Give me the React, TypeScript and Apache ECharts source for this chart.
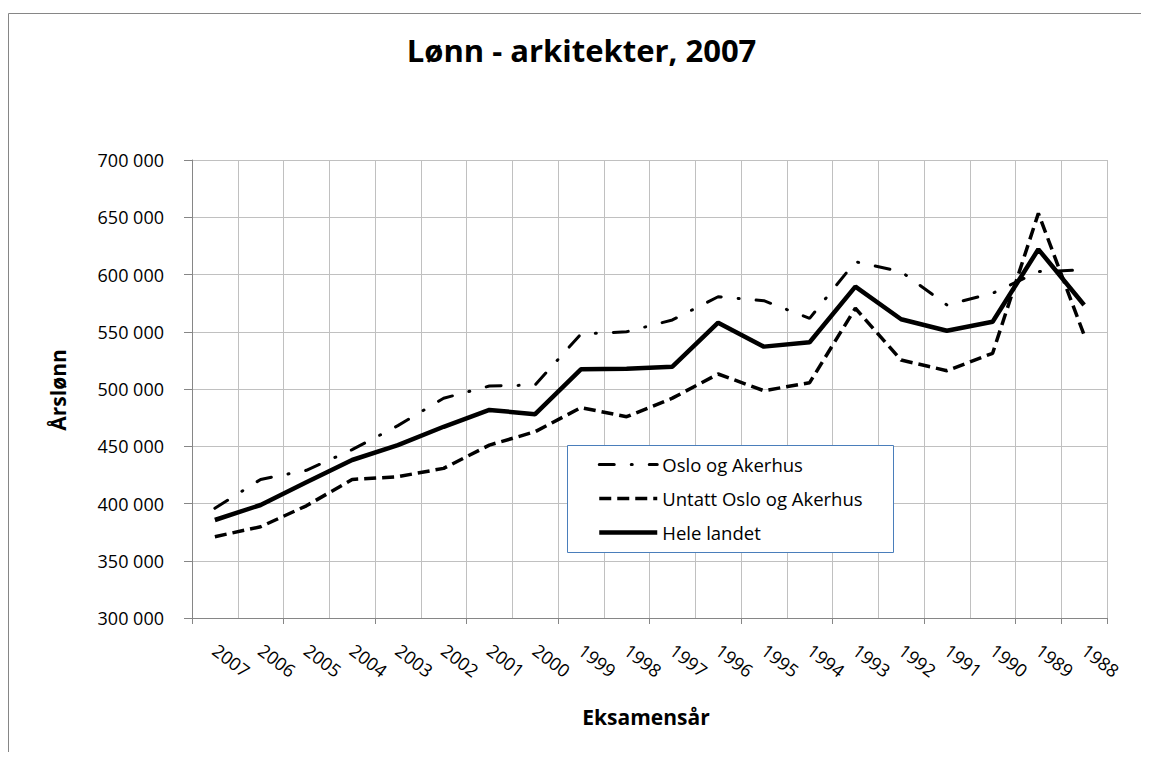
import React, { useEffect, useRef } from 'react';
import * as echarts from 'echarts';

const categories = ['2007', '2006', '2005', '2004', '2003', '2002', '2001', '2000', '1999', '1998', '1997', '1996', '1995', '1994', '1993', '1992', '1991', '1990', '1989', '1988'];
const osloOgAkershus = [395800, 421000, 429000, 447000, 468000, 491900, 502600, 503500, 548000, 550000, 560300, 580600, 577100, 561700, 611200, 602500, 573400, 583600, 602500, 604000];
const untattOsloOgAkershus = [371000, 379700, 398000, 421000, 423400, 430700, 451000, 462700, 483700, 475800, 492000, 513100, 498500, 505500, 570500, 525300, 516000, 531200, 653400, 547100];
const heleLandet = [385600, 398700, 418500, 438000, 451000, 467000, 481700, 478000, 517200, 517700, 519500, 557900, 537000, 540800, 589400, 560900, 550900, 558800, 622000, 573400];
const seriesNames = ['Oslo og Akerhus', 'Untatt Oslo og Akerhus', 'Hele landet'];
const yMin = 300000;
const yMax = 700000;
const yStep = 50000;
const titleText = 'Lønn - arkitekter, 2007';
const xName = 'Eksamensår';
const yName = 'Årslønn';

const FONT = "'Open Sans', sans-serif";

function fmt(v: number): string {
  return String(v).replace(/\B(?=(\d{3})+(?!\d))/g, ' ');
}

export default function App() {
  const ref = useRef<HTMLDivElement>(null);
  useEffect(() => {
    const chart = echarts.init(ref.current!, null, { renderer: 'svg' });
    chart.setOption({
      animation: false,
      title: {
        text: titleText,
        left: 573.5,
        top: 26,
        padding: 0,
        textAlign: 'center',
        textStyle: { fontFamily: FONT, fontWeight: 'bold', fontSize: 31, color: '#000' },
      },
      grid: { left: 184, top: 152, width: 915, height: 458, containLabel: false },
      legend: {
        orient: 'vertical',
        left: 589,
        top: 447,
        padding: 0,
        itemWidth: 58,
        itemHeight: 20,
        itemGap: 15,
        itemStyle: { opacity: 0 },
        z: 5,
        data: seriesNames,
        lineStyle: { width: 'inherit' },
        textStyle: { fontFamily: FONT, fontSize: 18.5, color: '#000' },
      },
      graphic: [
        {
          type: 'line',
          silent: true,
          z: 0,
          shape: { x1: 0.5, y1: 5.5, x2: 1200, y2: 5.5 },
          style: { stroke: '#868686', lineWidth: 1 },
        },
        {
          type: 'line',
          silent: true,
          z: 0,
          shape: { x1: 0.5, y1: 5.5, x2: 0.5, y2: 800 },
          style: { stroke: '#868686', lineWidth: 1 },
        },
        {
          type: 'rect',
          silent: true,
          z: 4,
          shape: { x: 559.5, y: 437.5, width: 326, height: 107 },
          style: { fill: '#fff', stroke: '#4a7ebb', lineWidth: 1 },
        },
        {
          type: 'text',
          x: 49.5,
          y: 382,
          rotation: Math.PI / 2,
          style: {
            text: yName,
            fontFamily: FONT,
            fontWeight: 'bold',
            fontSize: 21,
            fill: '#000',
            align: 'center',
            verticalAlign: 'middle',
          },
        },
        {
          type: 'text',
          x: 638,
          y: 709,
          style: {
            text: xName,
            fontFamily: FONT,
            fontWeight: 'bold',
            fontSize: 21,
            fill: '#000',
            align: 'center',
            verticalAlign: 'middle',
          },
        },
      ],
      xAxis: {
        type: 'category',
        data: categories,
        boundaryGap: true,
        axisLine: { show: true, lineStyle: { color: '#868686', width: 1 } },
        axisTick: { show: true, interval: 1, length: 6, lineStyle: { color: '#868686' } },
        axisLabel: { interval: 0, rotate: -37, margin: 30, fontFamily: FONT, fontSize: 18, color: '#000' },
        splitLine: { show: true, interval: 0, lineStyle: { color: '#c0c0c0', width: 1 } },
      },
      yAxis: {
        type: 'value',
        min: yMin,
        max: yMax,
        interval: yStep,
        axisLine: { show: true, lineStyle: { color: '#868686', width: 1 } },
        axisTick: { show: true, length: 8, lineStyle: { color: '#868686' } },
        axisLabel: { margin: 28, fontFamily: FONT, fontSize: 18, color: '#000', formatter: (v: number) => fmt(v) },
        splitLine: { show: true, lineStyle: { color: '#c0c0c0', width: 1 } },
      },
      series: [
        {
          name: seriesNames[0],
          type: 'line',
          data: osloOgAkershus,
          symbol: 'none',
          itemStyle: { color: '#000' },
          lineStyle: { color: '#000', width: 3, type: [15, 17, 1, 17], cap: 'round' },
        },
        {
          name: seriesNames[1],
          type: 'line',
          data: untattOsloOgAkershus,
          symbol: 'none',
          itemStyle: { color: '#000' },
          lineStyle: { color: '#000', width: 3.5, type: [12, 6], cap: 'butt' },
        },
        {
          name: seriesNames[2],
          type: 'line',
          data: heleLandet,
          symbol: 'none',
          itemStyle: { color: '#000' },
          lineStyle: { color: '#000', width: 4.5, type: 'solid' },
        },
      ],
    });
    return () => chart.dispose();
  }, []);
  return <div ref={ref} style={{ width: 1141, height: 752, marginBottom: -8 }} />;
}
